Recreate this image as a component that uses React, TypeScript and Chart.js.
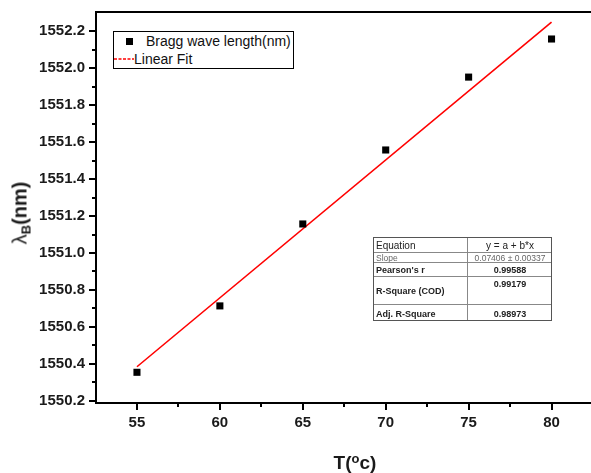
import React, { useEffect, useRef } from "react";
import { Chart, registerables } from "chart.js";

Chart.register(...registerables);

const temps = [55, 60, 65, 70, 75, 80];
const braggWavelength = [1550.355, 1550.714, 1551.157, 1551.557, 1551.951, 1552.157];
const fitTemps = [55, 80];
const fitWavelength = [1550.385, 1552.248];
const xMinorTicks = [57.5, 62.5, 67.5, 72.5, 77.5];
const yMinorTicks = [1550.3, 1550.5, 1550.7, 1550.9, 1551.1, 1551.3, 1551.5, 1551.7, 1551.9, 1552.1];
const tableRows = [
  ["Equation", "y = a + b*x"],
  ["Slope", "0.07406 ± 0.00337"],
  ["Pearson's r", "0.99588"],
  ["R-Square (COD)", "0.99179"],
  ["Adj. R-Square", "0.98973"],
];

const FONT = "'Liberation Sans', Arial, sans-serif";

const axisPlugin = {
  id: "axisExtras",
  afterDraw(chart: any) {
    const ctx = chart.ctx;
    const { left, top, right, bottom } = chart.chartArea;
    const xs = chart.scales.x;
    const ys = chart.scales.y;
    ctx.save();
    ctx.strokeStyle = "#000";
    ctx.lineWidth = 2;
    ctx.beginPath();
    ctx.moveTo(left - 1, top);
    ctx.lineTo(right, top);
    ctx.stroke();
    ctx.beginPath();
    for (const v of xMinorTicks) {
      const px = Math.round(xs.getPixelForValue(v));
      ctx.moveTo(px, bottom);
      ctx.lineTo(px, bottom + 4);
    }
    for (const v of yMinorTicks) {
      const py = Math.round(ys.getPixelForValue(v));
      ctx.moveTo(left, py);
      ctx.lineTo(left - 4, py);
    }
    ctx.stroke();
    ctx.restore();
  },
};

export default function App() {
  const ref = useRef<HTMLCanvasElement | null>(null);
  useEffect(() => {
    if (!ref.current) return;
    const chart = new Chart(ref.current, {
      type: "scatter",
      data: {
        datasets: [
          {
            label: "Linear Fit",
            type: "line",
            data: fitTemps.map((t, i) => ({ x: t, y: fitWavelength[i] })),
            borderColor: "#ff0000",
            borderWidth: 1.6,
            pointRadius: 0,
            showLine: true,
            fill: false,
            order: 2,
          } as any,
          {
            label: "Bragg wave length(nm)",
            data: temps.map((t, i) => ({ x: t, y: braggWavelength[i] })),
            pointStyle: "rect",
            pointRadius: 5,
            pointBorderWidth: 0,
            backgroundColor: "#000",
            borderColor: "#000",
            showLine: false,
            order: 1,
          },
        ],
      },
      options: {
        responsive: false,
        animation: false,
        events: [],
        layout: { autoPadding: false, padding: { top: 12, left: 0, right: 0, bottom: 0 } },
        plugins: { legend: { display: false }, tooltip: { enabled: false } },
        scales: {
          x: {
            type: "linear",
            min: 52.53,
            max: 82.38,
            ticks: {
              stepSize: 5,
              includeBounds: false,
              color: "#1a1a1a",
              font: { family: FONT, size: 15, weight: "bold" },
              padding: 4,
              maxRotation: 0,
            },
            grid: { display: true, drawOnChartArea: false, drawTicks: true, tickLength: 7, lineWidth: 2, color: "#000" },
            border: { display: true, width: 2, color: "#000" },
            afterFit(scale: any) {
              scale.height = 70;
              scale.paddingLeft = 0;
              scale.paddingRight = 0;
            },
          },
          y: {
            type: "linear",
            min: 1550.189,
            max: 1552.303,
            ticks: {
              stepSize: 0.2,
              includeBounds: false,
              color: "#1a1a1a",
              font: { family: FONT, size: 15, weight: "bold" },
              padding: 4,
              callback: (v: any) => Number(v).toFixed(1),
            },
            grid: { display: true, drawOnChartArea: false, drawTicks: true, tickLength: 7, lineWidth: 2, color: "#000" },
            border: { display: true, width: 2, color: "#000" },
            afterFit(scale: any) {
              scale.width = 96;
              scale.paddingTop = 0;
              scale.paddingBottom = 0;
            },
          },
        },
      },
      plugins: [axisPlugin],
    });
    return () => chart.destroy();
  }, []);

  const rowTops = [0, 15, 25, 39, 67];
  const rowHeights = [15, 10, 14, 28, 17];

  return (
    <div style={{ position: "absolute", left: 0, top: 0, width: 591, height: 473, overflow: "hidden", background: "#fff", fontFamily: FONT }}>
      <canvas ref={ref} width={591} height={473} style={{ display: "block", width: 591, height: 473 }} />
      {/* Y axis title */}
      <div
        style={{
          position: "absolute",
          left: 23,
          top: 213,
          transform: "translate(-50%, -50%) rotate(-90deg)",
          whiteSpace: "nowrap",
          fontSize: 20,
          fontWeight: "bold",
          color: "#1a1a1a",
          lineHeight: "22px",
        }}
      >
        <span style={{ fontWeight: "normal" }}>λ</span>
        <sub style={{ fontSize: 13, verticalAlign: "-4px" }}>B</sub>(nm)
      </div>
      {/* X axis title */}
      <div
        style={{
          position: "absolute",
          left: 355,
          top: 461,
          transform: "translate(-50%, -50%)",
          whiteSpace: "nowrap",
          fontSize: 19,
          fontWeight: "bold",
          color: "#1a1a1a",
          lineHeight: "20px",
        }}
      >
        T(<sup style={{ fontSize: 13, verticalAlign: "6px" }}>o</sup>c)
      </div>
      {/* Legend */}
      <div
        style={{
          position: "absolute",
          left: 113,
          top: 31,
          width: 181,
          height: 38,
          border: "1.5px solid #000",
          boxSizing: "border-box",
          background: "#fff",
        }}
      >
        <div style={{ position: "absolute", left: 12, top: 6, width: 7, height: 7, background: "#000" }} />
        <div style={{ position: "absolute", left: 32, top: 1, fontSize: 14, lineHeight: "17px", color: "#111", whiteSpace: "nowrap" }}>
          Bragg wave length(nm)
        </div>
        <svg style={{ position: "absolute", left: 0, top: 25, width: 20, height: 4 }} width={20} height={4}>
          <line x1={0} y1={2} x2={20} y2={2} stroke="#ff0000" strokeWidth={1.3} strokeDasharray="3 1.5" />
        </svg>
        <div style={{ position: "absolute", left: 20, top: 19, fontSize: 14, lineHeight: "17px", color: "#111", whiteSpace: "nowrap" }}>
          Linear Fit
        </div>
      </div>
      {/* Fit table */}
      <div
        style={{
          position: "absolute",
          left: 373,
          top: 237,
          width: 179,
          height: 84,
          border: "1px solid #555",
          boxSizing: "border-box",
          background: "#fff",
        }}
      >
        {tableRows.map((row, i) => {
          const isSlope = i === 1;
          const isEq = i === 0;
          const labelStyle: any = {
            position: "absolute",
            left: 2,
            top: rowTops[i],
            height: rowHeights[i],
            display: "flex",
            alignItems: "center",
            whiteSpace: "nowrap",
            fontSize: isSlope ? 8.5 : isEq ? 10 : 9,
            fontWeight: isSlope || isEq ? "normal" : "bold",
            color: isSlope ? "#666" : "#222",
          };
          const valueStyle: any = {
            position: "absolute",
            left: 94,
            width: 84,
            top: rowTops[i],
            height: i === 3 ? 14 : rowHeights[i],
            display: "flex",
            alignItems: "center",
            justifyContent: "center",
            whiteSpace: "nowrap",
            fontSize: isSlope ? 8.5 : isEq ? 10 : 9,
            fontWeight: isSlope || isEq ? "normal" : "bold",
            color: isSlope ? "#666" : "#222",
          };
          return (
            <React.Fragment key={i}>
              {i > 0 && (
                <div style={{ position: "absolute", left: 0, right: 0, top: rowTops[i] - 1, height: 0, borderTop: "1px solid #888" }} />
              )}
              <div style={labelStyle}>{row[0]}</div>
              <div style={valueStyle}>{row[1]}</div>
            </React.Fragment>
          );
        })}
        <div style={{ position: "absolute", left: 93, top: 0, bottom: 0, width: 0, borderLeft: "1px solid #888" }} />
      </div>
    </div>
  );
}
